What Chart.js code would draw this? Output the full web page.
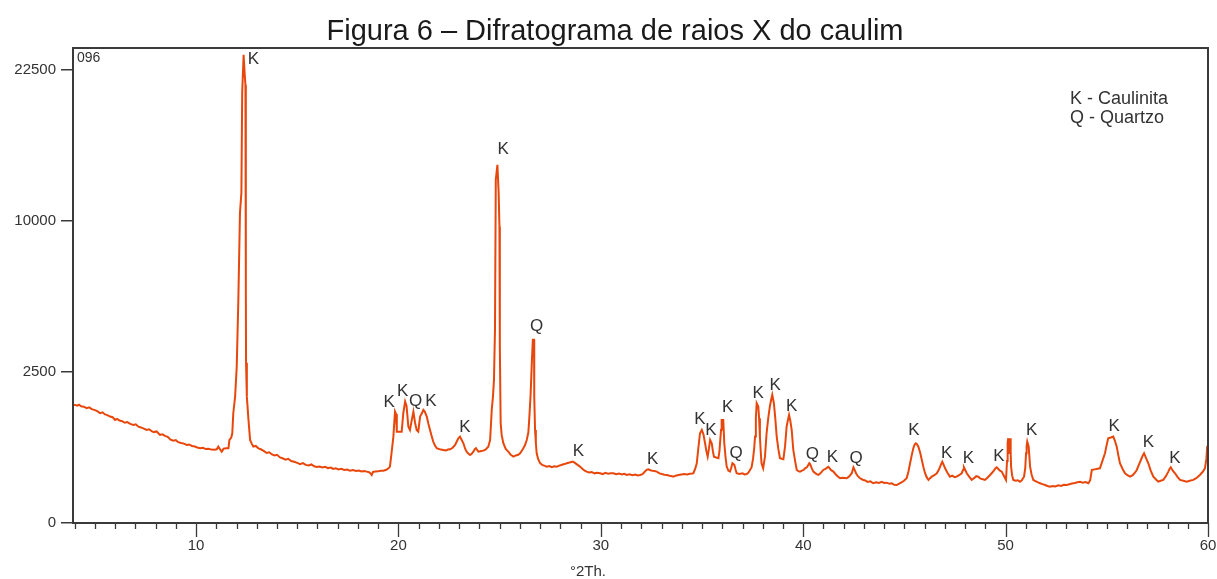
<!DOCTYPE html>
<html>
<head>
<meta charset="utf-8">
<script src="https://cdn.jsdelivr.net/npm/chart.js@4.4.0/dist/chart.umd.min.js"></script>
<style>
  html, body { margin: 0; padding: 0; background: #fff; }
  #wrap { width: 1217px; height: 579px; }
</style>
</head>
<body>
<div id="wrap"><canvas id="xrd" width="1217" height="579"></canvas></div>
<script>
// diffractogram trace (°2θ vs counts)
const twoTheta = [
  3.92, 4.02, 4.12, 4.22, 4.32, 4.45, 4.60, 4.72, 4.85, 5.00,
  5.12, 5.26, 5.38, 5.50, 5.62, 5.75, 5.88, 6.00, 6.10, 6.22,
  6.35, 6.48, 6.60, 6.75, 6.90, 7.02, 7.15, 7.28, 7.42, 7.56,
  7.68, 7.80, 7.92, 8.05, 8.22, 8.34, 8.46, 8.60, 8.74, 8.88,
  9.00, 9.12, 9.26, 9.40, 9.54, 9.66, 9.80, 9.94, 10.06, 10.20,
  10.34, 10.48, 10.62, 10.76, 10.90, 11.02, 11.10, 11.18, 11.27, 11.36,
  11.48, 11.60, 11.65, 11.74, 11.79, 11.84, 11.93, 12.01, 12.09, 12.17,
  12.24, 12.28, 12.35, 12.41, 12.44, 12.46, 12.47, 12.51, 12.59, 12.67,
  12.75, 12.83, 12.95, 13.08, 13.20, 13.34, 13.49, 13.62, 13.75, 13.88,
  14.00, 14.15, 14.30, 14.42, 14.55, 14.70, 14.85, 15.00, 15.14, 15.28,
  15.42, 15.56, 15.70, 15.84, 15.96, 16.10, 16.24, 16.38, 16.52, 16.66,
  16.77, 16.90, 17.04, 17.18, 17.32, 17.46, 17.61, 17.75, 17.90, 18.04,
  18.18, 18.32, 18.43, 18.55, 18.62, 18.68, 18.74, 18.86, 19.00, 19.12,
  19.25, 19.40, 19.52, 19.58, 19.66, 19.75, 19.83, 19.88, 19.92, 20.04,
  20.16, 20.24, 20.33, 20.40, 20.49, 20.57, 20.66, 20.74, 20.82, 20.90,
  20.98, 21.07, 21.17, 21.23, 21.30, 21.40, 21.48, 21.56, 21.64, 21.72,
  21.80, 21.89, 22.00, 22.10, 22.22, 22.35, 22.45, 22.55, 22.68, 22.80,
  22.90, 22.96, 23.04, 23.12, 23.21, 23.30, 23.37, 23.45, 23.54, 23.62,
  23.70, 23.78, 23.83, 23.90, 23.95, 24.05, 24.19, 24.30, 24.44, 24.53,
  24.61, 24.67, 24.72, 24.77, 24.81, 24.89, 24.95, 24.99, 25.01, 25.05,
  25.10, 25.18, 25.30, 25.43, 25.55, 25.68, 25.80, 25.92, 26.01, 26.15,
  26.25, 26.34, 26.42, 26.47, 26.53, 26.59, 26.64, 26.70, 26.71, 26.75,
  26.79, 26.83, 26.90, 27.00, 27.10, 27.20, 27.33, 27.45, 27.58, 27.70,
  27.82, 27.95, 28.08, 28.20, 28.32, 28.45, 28.55, 28.61, 28.70, 28.80,
  28.97, 29.10, 29.20, 29.30, 29.42, 29.55, 29.68, 29.82, 29.96, 30.10,
  30.22, 30.36, 30.50, 30.62, 30.76, 30.90, 31.04, 31.16, 31.28, 31.42,
  31.56, 31.70, 31.82, 31.94, 32.06, 32.18, 32.28, 32.35, 32.45, 32.55,
  32.65, 32.76, 32.90, 33.02, 33.14, 33.26, 33.40, 33.52, 33.58, 33.70,
  33.84, 33.98, 34.12, 34.26, 34.40, 34.50, 34.57, 34.66, 34.74, 34.82,
  34.90, 34.99, 35.07, 35.15, 35.22, 35.28, 35.34, 35.40, 35.48, 35.54,
  35.59, 35.70, 35.81, 35.86, 35.89, 35.94, 35.97, 36.05, 36.10, 36.16,
  36.22, 36.30, 36.38, 36.44, 36.50, 36.55, 36.60, 36.66, 36.71, 36.85,
  37.00, 37.10, 37.21, 37.30, 37.37, 37.45, 37.52, 37.58, 37.62, 37.66,
  37.70, 37.78, 37.82, 37.86, 37.90, 37.94, 38.02, 38.11, 38.19, 38.27,
  38.35, 38.41, 38.47, 38.55, 38.62, 38.69, 38.77, 38.85, 39.02, 39.10,
  39.18, 39.24, 39.30, 39.36, 39.43, 39.51, 39.60, 39.68, 39.76, 39.84,
  39.94, 40.03, 40.09, 40.18, 40.25, 40.30, 40.34, 40.42, 40.50, 40.58,
  40.66, 40.75, 40.85, 40.99, 41.10, 41.18, 41.24, 41.30, 41.38, 41.49,
  41.60, 41.70, 41.82, 41.95, 42.05, 42.15, 42.28, 42.40, 42.48, 42.54,
  42.61, 42.70, 42.81, 42.94, 43.06, 43.18, 43.32, 43.46, 43.60, 43.74,
  43.88, 44.00, 44.13, 44.26, 44.38, 44.50, 44.62, 44.74, 44.86, 44.98,
  45.11, 45.20, 45.28, 45.36, 45.44, 45.50, 45.56, 45.62, 45.69, 45.78,
  45.86, 45.94, 46.02, 46.10, 46.19, 46.27, 46.35, 46.48, 46.60, 46.70,
  46.80, 46.87, 46.94, 47.01, 47.12, 47.25, 47.36, 47.48, 47.58, 47.70,
  47.83, 47.90, 47.94, 48.00, 48.08, 48.20, 48.32, 48.44, 48.55, 48.65,
  48.76, 48.88, 48.98, 49.10, 49.22, 49.31, 49.42, 49.50, 49.56, 49.64,
  49.72, 49.81, 49.90, 50.02, 50.07, 50.10, 50.13, 50.17, 50.20, 50.22,
  50.25, 50.27, 50.32, 50.38, 50.50, 50.60, 50.71, 50.80, 50.91, 50.97,
  51.01, 51.04, 51.07, 51.14, 51.17, 51.21, 51.28, 51.37, 51.50, 51.60,
  51.70, 51.82, 51.95, 52.07, 52.19, 52.32, 52.46, 52.60, 52.74, 52.88,
  53.02, 53.15, 53.28, 53.42, 53.55, 53.68, 53.80, 53.95, 54.09, 54.18,
  54.26, 54.40, 54.54, 54.66, 54.78, 54.91, 55.00, 55.07, 55.20, 55.32,
  55.40, 55.49, 55.57, 55.65, 55.78, 55.90, 56.02, 56.15, 56.28, 56.40,
  56.48, 56.60, 56.72, 56.78, 56.84, 56.94, 57.05, 57.17, 57.30, 57.42,
  57.54, 57.66, 57.79, 57.92, 58.04, 58.10, 58.16, 58.26, 58.37, 58.50,
  58.62, 58.78, 58.95, 59.10, 59.27, 59.42, 59.60, 59.75, 59.85, 59.92,
  59.96, 60.00
];

const counts = [
  1530, 1527, 1505, 1530, 1490, 1480, 1442, 1465, 1420, 1395,
  1370, 1319, 1340, 1290, 1275, 1240, 1225, 1163, 1185, 1150,
  1135, 1100, 1115, 1075, 1053, 1065, 1015, 1000, 975, 948,
  962, 925, 905, 918, 849, 862, 830, 812, 760, 740,
  752, 715, 700, 690, 667, 675, 650, 640, 625, 612,
  620, 598, 604, 590, 586, 594, 638, 598, 557, 605,
  612, 612, 755, 800, 882, 1319, 1749, 2678, 5452, 10540,
  11940, 20270, 24000, 21840, 21000, 5950, 2807, 1749, 1163, 755,
  690, 640, 650, 610, 595, 570, 537, 548, 515, 500,
  510, 470, 455, 440, 452, 420, 410, 395, 380, 392,
  370, 362, 375, 352, 344, 350, 338, 345, 330, 336,
  320, 328, 315, 322, 308, 312, 300, 306, 296, 302,
  290, 295, 289, 282, 270, 253, 285, 290, 292, 298,
  300, 310, 330, 348, 537, 817, 1358, 1300, 914, 914,
  914, 1319, 1613, 1500, 1017, 948, 1163, 1358, 1100, 948,
  914, 1239, 1330, 1400, 1360, 1239, 1080, 948, 830, 725,
  660, 612, 600, 590, 584, 575, 590, 595, 620, 667,
  740, 787, 817, 760, 696, 600, 557, 530, 507, 525,
  557, 600, 612, 580, 557, 565, 573, 590, 638, 755,
  1400, 1749, 2242, 4084, 12900, 14050, 12000, 9626, 3408, 1096,
  850, 702, 600, 557, 510, 482, 500, 510, 533, 600,
  660, 755, 900, 1239, 1800, 2807, 3672, 3672, 1749, 948,
  700, 533, 450, 391, 370, 360, 348, 355, 340, 352,
  348, 360, 372, 380, 391, 400, 408, 412, 398, 380,
  348, 320, 300, 289, 280, 285, 270, 276, 271, 262,
  275, 266, 270, 271, 260, 268, 258, 265, 253, 260,
  250, 258, 248, 253, 262, 290, 312, 316, 305, 300,
  296, 289, 270, 262, 255, 253, 245, 240, 235, 245,
  252, 258, 262, 258, 265, 268, 271, 320, 391, 620,
  882, 948, 860, 696, 560, 482, 600, 755, 696, 560,
  482, 470, 459, 560, 696, 950, 1163, 1163, 696, 480,
  348, 300, 289, 330, 391, 380, 369, 310, 271, 262,
  270, 258, 263, 280, 308, 340, 450, 620, 817, 1200,
  1571, 1483, 1200, 817, 560, 391, 328, 482, 882, 1200,
  1483, 1650, 1796, 1571, 1200, 817, 600, 459, 445, 638,
  1017, 1150, 1279, 1150, 948, 584, 420, 308, 295, 289,
  300, 310, 328, 340, 369, 391, 380, 330, 289, 275,
  262, 253, 270, 308, 320, 335, 345, 330, 305, 289,
  260, 240, 219, 225, 222, 219, 240, 271, 340, 310,
  271, 240, 219, 205, 198, 185, 190, 173, 182, 175,
  185, 176, 178, 168, 172, 160, 158, 170, 180, 195,
  219, 290, 391, 500, 612, 670, 696, 680, 638, 540,
  435, 340, 271, 230, 203, 220, 235, 250, 271, 310,
  370, 412, 370, 328, 280, 235, 245, 230, 235, 250,
  271, 310, 340, 310, 271, 235, 203, 220, 240, 235,
  215, 210, 203, 225, 250, 271, 300, 330, 340, 320,
  300, 289, 250, 203, 420, 696, 787, 537, 700, 787,
  550, 348, 250, 203, 195, 200, 187, 200, 235, 330,
  533, 650, 725, 638, 500, 348, 260, 203, 190, 180,
  173, 165, 158, 150, 144, 150, 146, 155, 150, 160,
  158, 165, 170, 175, 182, 187, 178, 183, 173, 200,
  308, 315, 322, 328, 420, 533, 680, 787, 800, 817,
  740, 638, 500, 391, 320, 271, 250, 235, 250, 280,
  308, 380, 459, 500, 533, 460, 391, 300, 235, 210,
  187, 195, 203, 240, 289, 320, 340, 300, 271, 230,
  203, 195, 187, 195, 203, 220, 253, 290, 328, 450,
  638, 650
];

const yTicks = [0, 2500, 10000, 22500];

// phase marks: letter, °2θ and the count level where the letter sits
const peakNames = ['K', 'K', 'Q', 'K', 'K', 'Q', 'K', 'K', 'K', 'K',
  'K', 'K', 'K', 'Q', 'K', 'K', 'K', 'Q', 'K', 'Q',
  'K', 'K', 'K', 'K', 'K', 'K', 'K', 'K'];
const peakAt = [12.83, 25.18, 26.83, 19.54, 20.21, 20.85, 21.60, 23.29, 28.89, 32.56,
  34.90, 35.44, 36.27, 36.68, 37.78, 38.61, 39.43, 40.45, 41.44, 42.61,
  45.47, 47.09, 48.16, 49.67, 51.29, 55.36, 57.05, 58.37];
const peakLabelY = [23575, 15255, 4255, 1587, 1910, 1613, 1613, 996, 557, 445,
  1179, 948, 1468, 533, 1844, 2088, 1483, 522, 473, 453,
  934, 533, 459, 492, 948, 1017, 707, 459];

const legendLines = ['K - Caulinita', 'Q - Quartzo'];
const sampleId = '096';
const titleText = 'Figura 6 – Difratograma de raios X do caulim';
const xTitle = '°2Th.';

if (twoTheta.length !== counts.length) console.error('length mismatch', twoTheta.length, counts.length);

// square-root intensity axis, like the instrument software
class SqrtScale extends Chart.LinearScale {
  static id = 'sqrt';
  static defaults = {};
  buildTicks() {
    this.start = this.min;
    this.end = this.max;
    return yTicks.map(v => ({ value: v }));
  }
  getPixelForValue(v) {
    const lo = Math.sqrt(this.min), hi = Math.sqrt(this.max);
    return this.getPixelForDecimal((Math.sqrt(Math.max(v, 0)) - lo) / (hi - lo));
  }
  getValueForPixel(p) {
    const lo = Math.sqrt(this.min), hi = Math.sqrt(this.max);
    const s = lo + this.getDecimalForPixel(p) * (hi - lo);
    return s * s;
  }
}
Chart.register(SqrtScale);

const FONT = "'Liberation Sans', Arial, sans-serif";
const INK = '#333333';

const decor = {
  id: 'decor',
  afterDraw(chart) {
    const { ctx, chartArea: a, scales: { x, y } } = chart;
    ctx.save();

    // frame
    ctx.strokeStyle = '#3a3a3a';
    ctx.lineWidth = 2;
    ctx.strokeRect(a.left, a.top, a.right - a.left, a.bottom - a.top);

    // x tick marks, long every 10 degrees
    ctx.lineWidth = 1.3;
    x.ticks.forEach(t => {
      const px = Math.round(x.getPixelForValue(t.value)) + 0.5;
      const len = t.value % 10 === 0 ? 14 : 6;
      ctx.beginPath();
      ctx.moveTo(px, a.bottom);
      ctx.lineTo(px, a.bottom + len);
      ctx.stroke();
    });

    ctx.fillStyle = '#1a1a1a';
    ctx.font = '29px ' + FONT;
    ctx.textAlign = 'center';
    ctx.textBaseline = 'alphabetic';
    ctx.fillText(titleText, 615, 40);

    ctx.fillStyle = INK;
    ctx.font = '14px ' + FONT;
    ctx.textAlign = 'left';
    ctx.textBaseline = 'middle';
    ctx.fillText(sampleId, a.left + 4, a.top + 10);

    ctx.font = '18px ' + FONT;
    legendLines.forEach((s, i) => ctx.fillText(s, a.right - 138, a.top + 51 + i * 19));

    ctx.font = '15px ' + FONT;
    ctx.textAlign = 'center';
    ctx.fillText(xTitle, 588, 572);

    ctx.font = '17px ' + FONT;
    peakNames.forEach((s, i) => {
      ctx.fillText(s, x.getPixelForValue(peakAt[i]), y.getPixelForValue(peakLabelY[i]));
    });
    ctx.restore();
  }
};

new Chart(document.getElementById('xrd'), {
  type: 'line',
  data: {
    datasets: [{
      data: twoTheta.map((t, i) => ({ x: t, y: counts[i] })),
      borderColor: '#e8470c',
      borderWidth: 2,
      pointRadius: 0,
      tension: 0,
      fill: false
    }]
  },
  options: {
    responsive: false,
    animation: false,
    layout: { padding: { left: 0, right: 9, top: 48, bottom: 0 } },
    plugins: {
      legend: { display: false },
      tooltip: { enabled: false },
      title: { display: false }
    },
    scales: {
      x: {
        type: 'linear',
        min: 3.92,
        max: 60,
        afterFit: s => { s.height = 56; s.paddingLeft = 0; s.paddingRight = 0; },
        border: { display: false },
        grid: { display: false, drawTicks: false },
        ticks: {
          stepSize: 1,
          includeBounds: false,
          autoSkip: false,
          maxRotation: 0,
          padding: 14,
          color: INK,
          font: { family: FONT, size: 15 },
          callback: v => (v % 10 === 0 ? String(v) : '')
        }
      },
      y: {
        type: 'sqrt',
        min: 0,
        max: 24700,
        afterFit: s => { s.width = 73; s.paddingTop = 0; s.paddingBottom = 0; },
        border: { display: false },
        grid: { drawOnChartArea: false, drawTicks: true, tickLength: 12, color: '#3a3a3a', lineWidth: 1.5 },
        ticks: {
          padding: 5,
          color: INK,
          font: { family: FONT, size: 15 },
          callback: v => String(v)
        }
      }
    }
  },
  plugins: [decor]
});
</script>
</body>
</html>
